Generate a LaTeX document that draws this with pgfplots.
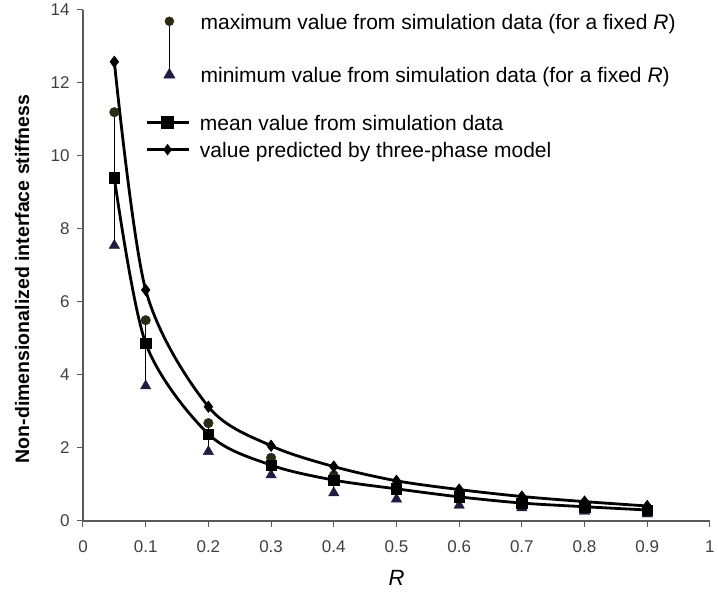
\documentclass[border=0pt]{standalone}
\usepackage{fontspec}
\setmainfont{Liberation Sans}
\usepackage{pgfplots}
\usepackage{pgfplotstable}
\pgfplotsset{compat=1.18}
\definecolor{maxcol}{HTML}{2B2B14}
\definecolor{mincol}{HTML}{1E1E45}
\definecolor{axcol}{HTML}{5A5A5A}
\definecolor{tickcol}{HTML}{404040}

\pgfplotsset{
  base/.style={scale only axis, width=627pt, height=511pt,
    xmin=0, xmax=1, ymin=0, ymax=14, at={(0,0)}, anchor=origin},
  legbox/.style={draw=none, fill=none, inner sep=0pt,
    font=\fontsize{21}{25}\selectfont,
    cells={anchor=base west, inner xsep=0pt, inner ysep=0pt,
      text height=16pt, text depth=5pt}},
  maxleg/.style={legend image code/.code={
    \path (0pt,8pt) (40pt,8pt);
    \draw[black, line width=0.8pt, overlay] (20pt,8pt) -- (20pt,-45pt);
    \fill[maxcol] (20pt,8pt) circle (4.5pt);}},
  minleg/.style={legend image code/.code={
    \path (0pt,8pt) (40pt,8pt);
    \fill[mincol] (20pt,8pt) ++(90:6.5pt) -- ++(-120:11.3pt) -- ++(0:11.3pt) -- cycle;}},
  lineleg/.style={legend image code/.code={
    \draw[mark repeat=2, mark phase=2, ##1, mark size=#1]
      plot coordinates {(0pt,8pt) (21pt,8pt) (42pt,8pt)};}},
}

\pgfplotstableread{
R    mx    mn    mean  pred
0.05 11.20 7.55  9.40  12.58
0.1  5.50  3.70  4.87  6.33
0.2  2.68  1.90  2.38  3.13
0.3  1.73  1.26  1.53  2.06
0.4  1.25  0.77  1.12  1.49
0.5  0.97  0.60  0.88  1.10
0.6  0.75  0.43  0.66  0.86
0.7  0.58  0.36  0.49  0.67
0.8  0.45  0.26  0.39  0.53
0.9  0.34  0.19  0.30  0.41
}\simdata

\begin{document}
\begin{tikzpicture}
\begin{axis}[base,
  xtick={0,0.1,...,1}, ytick={0,2,...,14},
  xticklabels={0,0.1,0.2,0.3,0.4,0.5,0.6,0.7,0.8,0.9,1},
  axis lines=left, axis line style={-, axcol, line width=1.4pt},
  tick align=outside, tick style={axcol, line width=1pt},
  major tick length=6pt,
  /pgf/number format/assume math mode=true,
  tick label style={font=\fontsize{17}{20}\selectfont, text=tickcol},
  xticklabel style={yshift=-10pt},
  yticklabel style={xshift=-4pt},
  xlabel={\textit{R}}, ylabel={Non-dimensionalized interface stiffness},
  xlabel style={font=\fontsize{22}{26}\selectfont, at={(axis description cs:0.5,-0.1115)}, anchor=center},
  ylabel style={font=\bfseries\fontsize{19.5}{23}\selectfont, at={(axis description cs:-0.097,0.4736)}, anchor=center},
  clip=false,
  legend style={legbox, at={(axis cs:0.1053,13.97)}, anchor=north west,
    row sep=32pt, column sep=9pt},
]
% max/min range bars
\addplot[only marks, mark=*, mark size=4.8pt, color=maxcol, maxleg,
  error bars/.cd, y dir=minus, y explicit, error mark=none,
  error bar style={black, line width=0.8pt}]
  table[x=R, y=mx, y error expr=\thisrow{mx}-\thisrow{mn}] {\simdata};
\addlegendentry{maximum value from simulation data (for a fixed \textit{R})}
\addplot[only marks, mark=triangle*, mark size=6pt, color=mincol, minleg]
  table[x=R, y=mn] {\simdata};
\addlegendentry{minimum value from simulation data (for a fixed \textit{R})}
\addplot[smooth, black, line width=2.8pt, mark=square*, mark size=5.2pt,
  mark options={solid, line width=0.5pt}, forget plot]
  table[x=R, y=mean] {\simdata};
\addplot[smooth, black, line width=2.8pt, mark=diamond*, mark size=5.8pt,
  mark options={solid, line width=0.5pt}, forget plot]
  table[x=R, y=pred] {\simdata};
% picture margins as in the reference
\path (axis cs:0,0) ++(-83pt,-74pt);
\path (axis cs:1,14) ++(8pt,10pt);
\end{axis}
\begin{axis}[base, hide axis,
  legend style={legbox, at={(axis cs:0.0989,11.205)}, anchor=north west,
    row sep=6pt, column sep=8pt},
]
\addlegendimage{black, line width=2.8pt, mark=square*, lineleg=5pt}
\addlegendentry{mean value from simulation data}
\addlegendimage{black, line width=2.8pt, mark=diamond*, lineleg=3.5pt}
\addlegendentry{value predicted by three-phase model}
\end{axis}
\end{tikzpicture}
\end{document}
